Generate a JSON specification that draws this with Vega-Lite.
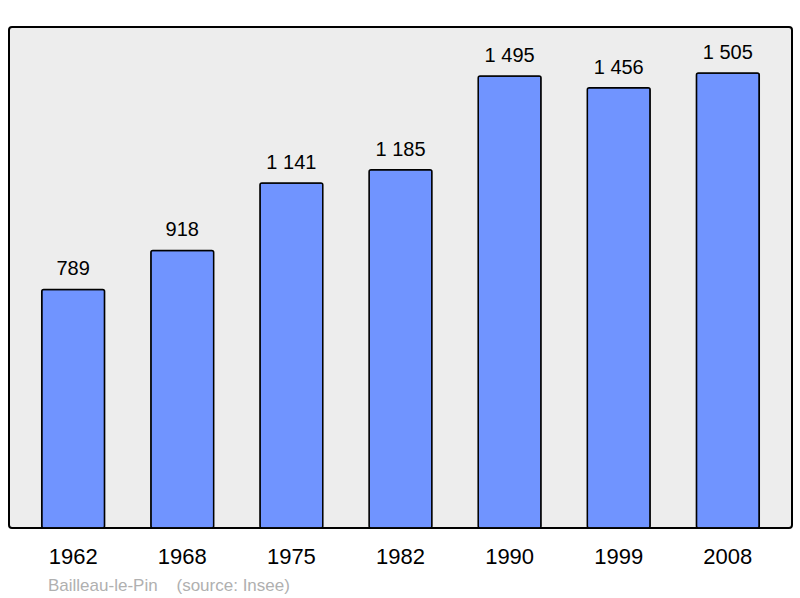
{
  "$schema": "https://vega.github.io/schema/vega-lite/v6.json",
  "width": 783,
  "height": 501,
  "autosize": {"type": "none"},
  "padding": {"left": 9, "top": 27, "right": 8, "bottom": 70},
  "background": "#ffffff",
  "config": {
    "view": {"fill": "#ededed", "stroke": "#000000", "strokeWidth": 2, "cornerRadius": 3},
    "font": "Liberation Sans"
  },
  "title": {
    "text": "Bailleau-le-Pin\u00a0\u00a0\u00a0 (source: Insee)",
    "orient": "bottom",
    "anchor": "start",
    "offset": 11,
    "dx": 39,
    "fontSize": 17,
    "fontWeight": "normal",
    "color": "#b0b0b0",
    "font": "Liberation Sans"
  },
  "data": {
    "values": [
      {"year": "1962", "pop": 789, "label": "789"},
      {"year": "1968", "pop": 918, "label": "918"},
      {"year": "1975", "pop": 1141, "label": "1 141"},
      {"year": "1982", "pop": 1185, "label": "1 185"},
      {"year": "1990", "pop": 1495, "label": "1 495"},
      {"year": "1999", "pop": 1456, "label": "1 456"},
      {"year": "2008", "pop": 1505, "label": "1 505"}
    ]
  },
  "encoding": {
    "x": {
      "field": "year",
      "type": "nominal",
      "sort": null,
      "scale": {"paddingInner": 0.424, "paddingOuter": 0.3},
      "axis": {
        "title": null,
        "labelAngle": 0,
        "labelFontSize": 22,
        "labelColor": "#000000",
        "labelPadding": 18,
        "ticks": false,
        "domain": false
      }
    },
    "y": {
      "field": "pop",
      "type": "quantitative",
      "scale": {"domain": [0, 1657], "nice": false, "zero": true},
      "axis": null
    }
  },
  "layer": [
    {
      "mark": {"type": "bar", "fill": "#7094ff", "stroke": "#000000", "strokeWidth": 1.5, "cornerRadius": 2}
    },
    {
      "mark": {"type": "text", "baseline": "alphabetic", "dy": -14, "fontSize": 20, "color": "#000000"},
      "encoding": {"text": {"field": "label"}}
    }
  ]
}
